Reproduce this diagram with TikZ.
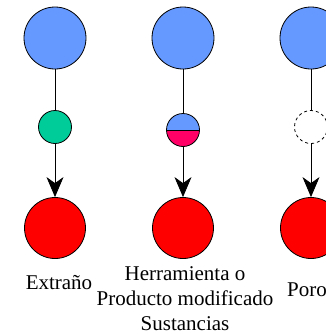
\documentclass[tikz,border=0pt]{standalone}
\usepackage{fontspec}
\setmainfont{Liberation Serif}
\usetikzlibrary{arrows.meta}

\definecolor{srcblue}{HTML}{6699FF}
\definecolor{midgreen}{HTML}{00CC99}
\definecolor{midpink}{HTML}{FF0066}
\definecolor{dstred}{HTML}{FF0000}

\begin{document}
\begin{tikzpicture}[
	x=1bp, y=-1bp,
	bigdot/.style={circle, draw, line width=0.8bp, inner sep=0pt, minimum size=62bp},
	smalldot/.style={circle, draw, line width=0.8bp, inner sep=0pt, minimum size=33bp},
	link/.style={line width=0.8bp},
	conn/.style={line width=0.8bp, -{Stealth[length=20bp, width=17bp, inset=6bp]}},
	lbl/.style={align=center, font=\fontsize{21bp}{25bp}\selectfont},
]
	\useasboundingbox (0,0) rectangle (326,334);

	% Extrano (left)
	\node[bigdot, fill=srcblue] (srcA) at (55,38) {};
	\node[smalldot, fill=midgreen] (midA) at (55,127) {};
	\node[bigdot, fill=dstred, minimum size=61bp] (dstA) at (55,228) {};
	\draw[link] (srcA) -- (midA);
	\draw[conn] (midA) -- (dstA);
	\node[lbl] (lblA) at (59,283) {Extraño};

	% Herramienta (middle)
	\node[bigdot, fill=srcblue] (srcB) at (183,38) {};
	\node[smalldot, path picture={
		\fill[midpink] (path picture bounding box.west) rectangle (path picture bounding box.south east);
		\fill[srcblue] (path picture bounding box.north west) rectangle (path picture bounding box.east);
		\draw[line width=0.8bp] (path picture bounding box.west) -- (path picture bounding box.east);
	}] (midB) at (183,130) {};
	\node[bigdot, fill=dstred, minimum size=61bp] (dstB) at (183,228) {};
	\draw[link] (srcB) -- (midB);
	\draw[conn] (midB) -- (dstB);
	\node[lbl] (lblB) at (185,299) {Herramienta o\\Producto modificado\\Sustancias};

	% Poro (right, cut off)
	\node[bigdot, fill=srcblue] (srcC) at (311,38) {};
	\node[smalldot, dashed, fill=white] (midC) at (311,127) {};
	\node[bigdot, fill=dstred, minimum size=61bp] (dstC) at (311,228) {};
	\draw[link] (srcC) -- (midC);
	\draw[conn] (midC) -- (dstC);
	\node[lbl] (lblC) at (307,290) {Poro};

\end{tikzpicture}
\end{document}
